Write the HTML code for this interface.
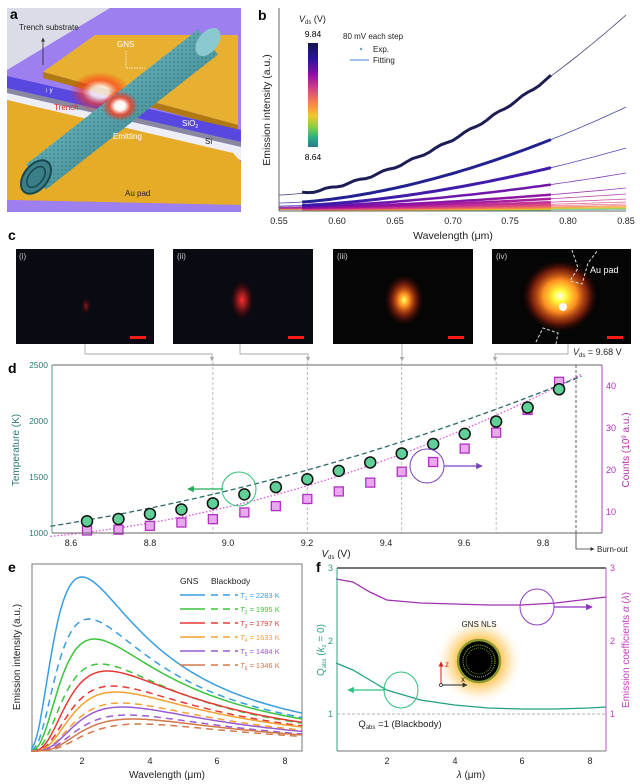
<!DOCTYPE html>
<html><head><meta charset="utf-8">
<style>
html,body{margin:0;padding:0;background:#fff;}
svg{display:block;font-family:"Liberation Sans",sans-serif;}
</style></head>
<body>
<svg id="s" width="640" height="784" viewBox="0 0 640 784" xmlns="http://www.w3.org/2000/svg">
<defs>
<linearGradient id="tube" x1="0" y1="0" x2="1" y2="1">
<stop offset="0" stop-color="#b8e4ea"/><stop offset="0.45" stop-color="#5aa6ae"/><stop offset="1" stop-color="#2a6e78"/>
</linearGradient>
<pattern id="mesh" width="4" height="4" patternUnits="userSpaceOnUse"><rect width="4" height="4" fill="none"/><circle cx="2" cy="2" r="0.9" fill="#1d4f58" fill-opacity="0.45"/></pattern>
<radialGradient id="hot"><stop offset="0" stop-color="#fff"/><stop offset="0.3" stop-color="#fff4f0"/><stop offset="0.6" stop-color="#ff3a20" stop-opacity="0.8"/><stop offset="1" stop-color="#ff2000" stop-opacity="0"/></radialGradient>
<linearGradient id="cbar" x1="0" y1="0" x2="0" y2="1">
<stop offset="0" stop-color="#141450"/><stop offset="0.15" stop-color="#2a1496"/><stop offset="0.3" stop-color="#8a10a0"/><stop offset="0.45" stop-color="#d84880"/><stop offset="0.6" stop-color="#f59040"/><stop offset="0.7" stop-color="#f0c828"/><stop offset="0.8" stop-color="#90d040"/><stop offset="0.9" stop-color="#30b080"/><stop offset="1" stop-color="#2a7a90"/>
</linearGradient>
<radialGradient id="g1"><stop offset="0" stop-color="#b02020" stop-opacity="0.8"/><stop offset="1" stop-color="#300" stop-opacity="0"/></radialGradient>
<radialGradient id="g2"><stop offset="0" stop-color="#ff3030"/><stop offset="0.4" stop-color="#c02020" stop-opacity="0.7"/><stop offset="1" stop-color="#400" stop-opacity="0"/></radialGradient>
<radialGradient id="g3"><stop offset="0" stop-color="#ffff60"/><stop offset="0.25" stop-color="#ff9020"/><stop offset="0.6" stop-color="#c03010" stop-opacity="0.6"/><stop offset="1" stop-color="#300" stop-opacity="0"/></radialGradient>
<radialGradient id="g4"><stop offset="0" stop-color="#ffffff"/><stop offset="0.15" stop-color="#ffff40"/><stop offset="0.45" stop-color="#ff9020"/><stop offset="0.75" stop-color="#c03010" stop-opacity="0.6"/><stop offset="1" stop-color="#300" stop-opacity="0"/></radialGradient>
<radialGradient id="glowf"><stop offset="0.45" stop-color="#ffc040"/><stop offset="0.7" stop-color="#ffd890" stop-opacity="0.6"/><stop offset="1" stop-color="#fff" stop-opacity="0"/></radialGradient>
<marker id="arG" viewBox="0 0 10 10" refX="9" refY="5" markerWidth="5" markerHeight="5" orient="auto"><path d="M0,0L10,5L0,10z" fill="#22aa55"/></marker>
<marker id="arP" viewBox="0 0 10 10" refX="9" refY="5" markerWidth="5" markerHeight="5" orient="auto"><path d="M0,0L10,5L0,10z" fill="#7a40c0"/></marker>
<marker id="arM" viewBox="0 0 10 10" refX="9" refY="5" markerWidth="5" markerHeight="5" orient="auto"><path d="M0,0L10,5L0,10z" fill="#9030c0"/></marker>
<marker id="arT" viewBox="0 0 10 10" refX="9" refY="5" markerWidth="5" markerHeight="5" orient="auto"><path d="M0,0L10,5L0,10z" fill="#30c080"/></marker>
<marker id="arK" viewBox="0 0 10 10" refX="9" refY="5" markerWidth="5" markerHeight="5" orient="auto"><path d="M0,0L10,5L0,10z" fill="#333"/></marker>
<marker id="arGr" viewBox="0 0 10 10" refX="9" refY="5" markerWidth="5" markerHeight="5" orient="auto"><path d="M0,0L10,5L0,10z" fill="#aaa"/></marker>
<marker id="arR" viewBox="0 0 10 10" refX="9" refY="5" markerWidth="5" markerHeight="5" orient="auto"><path d="M0,0L10,5L0,10z" fill="#e02020"/></marker>
</defs>

<!-- Panel a -->
<rect x="7" y="8" width="234" height="204" fill="#9d7ff0"/>
<polygon points="7,8 110,8 7,70" fill="#dcdce8"/>
<polygon points="43,72 95,35 238,35 238,125" fill="#e8b030"/>
<polygon points="43,72 238,125 238,131 43,78" fill="#b07810"/>
<polygon points="7,76 241,130 241,142 7,88" fill="#5848e0"/>
<polygon points="7,88 241,142 241,147 7,93" fill="#8888a0"/>
<polygon points="7,93 241,147 241,160 7,100" fill="#eeeef8"/>
<polygon points="7,100 233,153 241,162 241,205 7,200" fill="#e6ac28"/>
<polygon points="7,200 241,205 241,212 7,212" fill="#9d7ff0"/>
<ellipse cx="100" cy="92" rx="30" ry="20" fill="url(#hot)" opacity="0.8"/>
<line x1="36" y1="177" x2="208" y2="42" stroke="url(#tube)" stroke-width="32"/>
<line x1="36" y1="177" x2="208" y2="42" stroke="url(#mesh)" stroke-width="32"/>
<ellipse cx="208" cy="42" rx="10" ry="16" transform="rotate(38 208 42)" fill="#8cc8d0"/>
<ellipse cx="36" cy="177" rx="12" ry="19" transform="rotate(38 36 177)" fill="#3a7e88" stroke="#184850" stroke-width="2"/>
<ellipse cx="36" cy="177" rx="7" ry="12" transform="rotate(38 36 177)" fill="none" stroke="#184850" stroke-width="1.5"/>
<ellipse cx="120" cy="106" rx="18" ry="15" fill="url(#hot)"/>
<text x="10" y="19" font-size="14" font-weight="bold">a</text>
<text x="19" y="30" font-size="8" fill="#222">Trench substrate</text>
<line x1="43" y1="65" x2="43" y2="38" stroke="#222" stroke-width="0.8" marker-end="url(#arK)"/>
<text x="117" y="47" font-size="8" fill="#fff">GNS</text>
<polyline points="126,51 126,68 145,68" fill="none" stroke="#fff" stroke-width="0.7" stroke-dasharray="1.5,1"/>
<text x="54" y="110" font-size="8" fill="#e02020">Trench</text>
<text x="113" y="139" font-size="8" fill="#fff">Emitting</text>
<text x="182" y="126" font-size="8" fill="#fff">SiO<tspan font-size="5" dy="2">2</tspan></text>
<text x="205" y="144" font-size="8" fill="#222">Si</text>
<text x="125" y="196" font-size="8" fill="#222">Au pad</text>
<text x="45" y="92" font-size="6" fill="#fff">↕ y</text>

<!-- Panel b -->
<text x="258" y="20" font-size="14" font-weight="bold">b</text>
<g id="pb"></g>
<line x1="279" y1="8" x2="279" y2="211" stroke="#666" stroke-width="1"/>
<line x1="279" y1="211" x2="626" y2="211" stroke="#666" stroke-width="1"/>
<g font-size="9" fill="#222" text-anchor="middle">
<text x="279" y="224">0.55</text><text x="337" y="224">0.60</text><text x="395" y="224">0.65</text><text x="453" y="224">0.70</text><text x="510" y="224">0.75</text><text x="568" y="224">0.80</text><text x="626" y="224">0.85</text>
<text x="453" y="239" font-size="10.5">Wavelength (μm)</text>
</g>
<text transform="translate(270,110) rotate(-90)" font-size="10.5" text-anchor="middle" fill="#222">Emission intensity (a.u.)</text>
<rect x="308" y="43" width="10" height="104" fill="url(#cbar)"/>
<text x="299" y="22" font-size="9" fill="#222"><tspan font-style="italic">V</tspan><tspan font-size="6" dy="2">ds</tspan><tspan dy="-2"> (V)</tspan></text>
<text x="313" y="37" font-size="8.5" text-anchor="middle">9.84</text>
<text x="313" y="160" font-size="8.5" text-anchor="middle">8.64</text>
<text x="343" y="39" font-size="8" fill="#222">80 mV each step</text>
<circle cx="361" cy="49" r="1.2" fill="#6aa0d0"/>
<text x="373" y="52" font-size="8" fill="#222">Exp.</text>
<line x1="350" y1="60" x2="369" y2="60" stroke="#4a7ad0" stroke-width="1"/>
<text x="373" y="63" font-size="8" fill="#222">Fitting</text>

<!-- Panel c -->
<text x="8" y="240" font-size="14" font-weight="bold">c</text>
<rect x="16" y="249" width="138" height="95" fill="#0a0a12"/>
<rect x="173" y="249" width="140" height="95" fill="#0a0a12"/>
<rect x="333" y="249" width="140" height="95" fill="#050505"/>
<rect x="492" y="249" width="139" height="95" fill="#050505"/>
<ellipse cx="86" cy="306" rx="5" ry="9" fill="url(#g1)"/>
<ellipse cx="242" cy="300" rx="12" ry="20" fill="url(#g2)"/>
<ellipse cx="404" cy="300" rx="20" ry="26" fill="url(#g3)"/>
<ellipse cx="560" cy="296" rx="38" ry="36" fill="url(#g4)"/>
<circle cx="563" cy="307" r="4" fill="#fff"/>
<polyline points="572,250 578,268 570,281 582,284 588,263 598,250" fill="none" stroke="#ddd" stroke-width="1" stroke-dasharray="3,2"/>
<polyline points="536,342 543,328 558,333 556,344" fill="none" stroke="#ddd" stroke-width="1" stroke-dasharray="3,2"/>
<text x="590" y="273" font-size="9" fill="#fff">Au pad</text>
<g font-size="8" fill="#ccc"><text x="19" y="259">(i)</text><text x="177" y="259">(ii)</text><text x="337" y="259">(iii)</text><text x="496" y="259">(iv)</text></g>
<g fill="#ff1a1a"><rect x="130" y="336" width="16" height="3"/><rect x="288" y="336" width="16" height="3"/><rect x="448" y="336" width="16" height="3"/><rect x="607" y="336" width="16" height="3"/></g>
<text x="573" y="355" font-size="9" fill="#222"><tspan font-style="italic">V</tspan><tspan font-size="6" dy="2">ds</tspan><tspan dy="-2"> = 9.68 V</tspan></text>
<g stroke="#aaa" stroke-width="0.9" fill="none">
<polyline points="85,344 85,354 212,354 212,361" marker-end="url(#arGr)"/>
<polyline points="240,344 240,354 308,354 308,361" marker-end="url(#arGr)"/>
<polyline points="402,344 402,361" marker-end="url(#arGr)"/>
<polyline points="568,344 568,354 495,354 495,361" marker-end="url(#arGr)"/>
</g>

<!-- Panel d -->
<text x="8" y="373" font-size="14" font-weight="bold">d</text>
<g id="pd"></g>
<line x1="52" y1="365" x2="602" y2="365" stroke="#666" stroke-width="1"/>
<line x1="52" y1="365" x2="52" y2="533" stroke="#5a9a96" stroke-width="1"/>
<line x1="602" y1="365" x2="602" y2="533" stroke="#b040c0" stroke-width="1"/>
<line x1="52" y1="533" x2="602" y2="533" stroke="#666" stroke-width="1"/>
<g font-size="8.5" fill="#2a7a76" text-anchor="end">
<text x="48" y="368">2500</text><text x="48" y="424">2000</text><text x="48" y="480">1500</text><text x="48" y="536">1000</text></g>
<g font-size="9" fill="#b030b0"><text x="606" y="389">40</text><text x="606" y="431">30</text><text x="606" y="473">20</text><text x="606" y="515">10</text></g>
<g font-size="9" fill="#222" text-anchor="middle">
<text x="71" y="546">8.6</text><text x="150" y="546">8.8</text><text x="228" y="546">9.0</text><text x="307" y="546">9.2</text><text x="386" y="546">9.4</text><text x="464" y="546">9.6</text><text x="543" y="546">9.8</text></g>
<text x="336" y="557" font-size="10" text-anchor="middle" fill="#222"><tspan font-style="italic">V</tspan><tspan font-size="6" dy="2">ds</tspan><tspan dy="-2"> (V)</tspan></text>
<text transform="translate(19,450) rotate(-90)" font-size="10" text-anchor="middle" fill="#2a7a76">Temperature (K)</text>
<text transform="translate(629,450) rotate(-90)" font-size="10" text-anchor="middle" fill="#b030b0">Counts (10<tspan font-size="6" dy="-3">9</tspan><tspan dy="3"> a.u.)</tspan></text>
<polyline points="576,533 576,549 594,549" fill="none" stroke="#333" stroke-width="0.8" marker-end="url(#arK)"/>
<text x="597" y="552" font-size="8" fill="#222">Burn-out</text>
<circle cx="239" cy="489" r="17" fill="none" stroke="#30c070" stroke-width="1"/>
<line x1="223" y1="489" x2="188" y2="489" stroke="#22aa55" stroke-width="1.3" marker-end="url(#arG)"/>
<circle cx="427" cy="466" r="17" fill="none" stroke="#7a40c0" stroke-width="1"/>
<line x1="444" y1="466" x2="482" y2="466" stroke="#7a40c0" stroke-width="1.3" marker-end="url(#arP)"/>

<!-- Panel e -->
<text x="8" y="572" font-size="14" font-weight="bold">e</text>
<rect x="32" y="564" width="270" height="187" fill="none" stroke="#777" stroke-width="1"/>
<g id="pe"></g>
<g font-size="9" fill="#222" text-anchor="middle"><text x="82" y="764">2</text><text x="150" y="764">4</text><text x="217" y="764">6</text><text x="285" y="764">8</text>
<text x="167" y="778" font-size="10">Wavelength (μm)</text></g>
<text transform="translate(20,657) rotate(-90)" font-size="10" text-anchor="middle" fill="#222">Emission intensity (a.u.)</text>
<text x="180" y="584" font-size="8.5" fill="#222">GNS</text><text x="211" y="584" font-size="8.5" fill="#222">Blackbody</text>
<g id="leg" font-size="7.5"></g>

<!-- Panel f -->
<text x="316" y="572" font-size="14" font-weight="bold">f</text>
<circle cx="479" cy="661" r="44" fill="url(#glowf)"/>
<circle cx="479" cy="661" r="21" fill="#000" stroke="#8a9a30" stroke-width="2.5"/>
<circle cx="479" cy="661" r="16" fill="none" stroke="#90c040" stroke-width="1" stroke-dasharray="1,1"/>
<circle cx="479" cy="661" r="13" fill="none" stroke="#70a030" stroke-width="0.8" stroke-dasharray="1,1"/>
<text x="479" y="627" font-size="8" text-anchor="middle" fill="#222">GNS NLS</text>
<line x1="441" y1="685" x2="441" y2="662" stroke="#e02020" stroke-width="1" marker-end="url(#arR)"/>
<text x="445" y="667" font-size="8" fill="#e02020">z</text>
<line x1="441" y1="685" x2="467" y2="685" stroke="#222" stroke-width="1" marker-end="url(#arK)"/>
<text x="461" y="682" font-size="8" fill="#222">x</text>
<circle cx="441" cy="685" r="1.5" fill="#fff" stroke="#222" stroke-width="0.8"/>
<g id="pf"></g>
<line x1="337" y1="568" x2="606" y2="568" stroke="#222" stroke-width="1.2"/>
<line x1="337" y1="568" x2="337" y2="751" stroke="#30a080" stroke-width="1"/>
<line x1="606" y1="568" x2="606" y2="751" stroke="#c050c0" stroke-width="1"/>
<line x1="337" y1="751" x2="606" y2="751" stroke="#777" stroke-width="1"/>
<line x1="337" y1="714" x2="606" y2="714" stroke="#999" stroke-width="0.8" stroke-dasharray="3,2"/>
<g font-size="9" fill="#30a080" text-anchor="end"><text x="333" y="571">3</text><text x="333" y="644">2</text><text x="333" y="717">1</text></g>
<g font-size="9" fill="#c040c0"><text x="610" y="571">3</text><text x="610" y="644">2</text><text x="610" y="717">1</text></g>
<g font-size="9" fill="#222" text-anchor="middle"><text x="387" y="764">2</text><text x="455" y="764">4</text><text x="522" y="764">6</text><text x="590" y="764">8</text>
<text x="471" y="778" font-size="10"><tspan font-style="italic">λ</tspan> (μm)</text></g>
<text x="400" y="727" font-size="9.5" text-anchor="middle" fill="#222">Q<tspan font-size="6" dy="2">abs</tspan><tspan dy="-2"> =1 (Blackbody)</tspan></text>
<text transform="translate(324,650) rotate(-90)" font-size="10" text-anchor="middle" fill="#30a080">Q<tspan font-size="6" dy="2">abs</tspan><tspan dy="-2"> (</tspan><tspan font-style="italic">k</tspan><tspan font-size="6" dy="2">z</tspan><tspan dy="-2"> = 0)</tspan></text>
<text transform="translate(629,650) rotate(-90)" font-size="10" text-anchor="middle" fill="#c040c0">Emission coefficients <tspan font-style="italic">α</tspan> (<tspan font-style="italic">λ</tspan>)</text>
<ellipse cx="537" cy="607" rx="17" ry="18" fill="none" stroke="#9040c0" stroke-width="1"/>
<line x1="554" y1="607" x2="592" y2="607" stroke="#9030c0" stroke-width="1.3" marker-end="url(#arM)"/>
<ellipse cx="401" cy="690" rx="17" ry="18" fill="none" stroke="#30c080" stroke-width="1"/>
<line x1="385" y1="690" x2="348" y2="690" stroke="#30c080" stroke-width="1.3" marker-end="url(#arT)"/>
</svg>
<script>
var NS="http://www.w3.org/2000/svg";
function el(p,t,a){var e=document.createElementNS(NS,t);for(var k in a)e.setAttribute(k,a[k]);p.appendChild(e);return e;}
(function(){
var g=document.getElementById('pb');
var cols=["#141450","#1a1a8c","#3a14a8","#6a10a8","#8a10a0","#a8189a","#c03090","#d84880","#e86070","#f07858","#f59040","#f5b030","#e8d020","#b0d040","#60c060","#30a090"];
var sh=[[15,195],[7,103],[4,62],[3,37],[2.5,22],[2,16],[1.6,11],[1.3,8],[1.1,6],[0.9,4.5],[0.8,3.5],[0.7,2.8],[0.6,2.2],[0.5,1.7],[0.4,1.2],[0.3,0.8]];
for(var k=15;k>=0;k--){
 var s=sh[k][0],h=sh[k][1],pf="",pe="";
 for(var i=0;i<=60;i++){var l=0.55+0.3*i/60,t=(l-0.55)/0.3;var y=210-(s+(h-s)*Math.pow(t,1.7));var x=279+(l-0.55)*1157;pf+=x.toFixed(1)+","+y.toFixed(1)+" ";if(l>=0.569&&l<=0.786)pe+=x.toFixed(1)+","+(y+(k==0?Math.sin(i*1.3)*1:0)).toFixed(1)+" ";}
 el(g,'polyline',{points:pe,fill:'none',stroke:cols[k],'stroke-width':k<3?3:2.5,'stroke-opacity':0.95});
 el(g,'polyline',{points:pf,fill:'none',stroke:cols[k],'stroke-width':0.8,'stroke-opacity':0.8});
}})();
(function(){
var g=document.getElementById('pd');
function X(v){return 87+(v-8.64)*393.4;}function YT(t){return 533-(t-1000)*0.112;}function YC(c){return 512-(c-10)*4.2;}
[8.96,9.2,9.44,9.68].forEach(function(v){el(g,'line',{x1:X(v),y1:362,x2:X(v),y2:533,stroke:'#aaa','stroke-width':0.8,'stroke-dasharray':'3,2'});});
el(g,'line',{x1:576,y1:365,x2:576,y2:533,stroke:'#333','stroke-width':0.8,'stroke-dasharray':'3,2'});
var V=[],T=[1105,1125,1170,1210,1265,1345,1410,1480,1555,1630,1710,1795,1885,1995,2120,2283],C=[5.6,5.8,6.7,7.5,8.3,9.9,11.4,13.1,14.9,17,19.6,21.9,25.1,28.9,34.3,41];
for(var i=0;i<16;i++)V.push(8.64+0.08*i);
var pt="",pc="";
for(var v=8.547;v<=9.9;v+=0.01){var t=1060+ (v-8.547)*560+ (v-8.547)*(v-8.547)*320;var c=4.2+(v-8.547)*9+(v-8.547)*(v-8.547)*14.5;
 var yt=YT(t),yc=YC(c);if(yt>=365)pt+=X(v).toFixed(1)+","+yt.toFixed(1)+" ";if(yc>=365)pc+=X(v).toFixed(1)+","+yc.toFixed(1)+" ";}
el(g,'polyline',{points:pc,fill:'none',stroke:'#e050e0','stroke-width':1.3,'stroke-dasharray':'1.5,2'});
el(g,'polyline',{points:pt,fill:'none',stroke:'#2a6a66','stroke-width':1.3,'stroke-dasharray':'5,3'});
for(var i=0;i<16;i++){el(g,'rect',{x:X(V[i])-4.5,y:YC(C[i])-4.5,width:9,height:9,fill:'#eaa8f0',stroke:'#b030c0','stroke-width':1.3});
 el(g,'circle',{cx:X(V[i]),cy:YT(T[i]),r:5.5,fill:'#60d098',stroke:'#111','stroke-width':1.5});}
})();
(function(){
var g=document.getElementById('pe'),lg=document.getElementById('leg');
function X(l){return 31.3+(l-0.5)*33.8;}
var cols=["#3a9de0","#3cc33c","#e53935","#f5a030","#9a5bd0","#d2784a"];
var names=["2283","1995","1797","1633","1484","1346"];
var P=[[2.0,577,2.2,619],[2.37,639,2.55,664],[2.75,671,2.9,686],[3.0,692,3.15,703],[3.2,707,3.35,715],[3.5,719,3.7,724]];
function f(l,lp){var c=2.8214*lp;return Math.pow(l,-3)/(Math.exp(c/l)-1);}
for(var k=0;k<6;k++){
 for(var j=0;j<2;j++){var lp=P[k][j*2],yp=P[k][j*2+1],H=751-yp,fp=f(lp,lp),s="";
  for(var l=0.5;l<=8.501;l+=0.05){var y=751-H*f(l,lp)/fp;s+=X(l).toFixed(1)+","+y.toFixed(1)+" ";}
  var a={points:s,fill:'none',stroke:cols[k],'stroke-width':1.5};if(j==1)a['stroke-dasharray']='7,5';el(g,'polyline',a);}
 var y=595+14*k;
 el(lg,'line',{x1:180,y1:y,x2:205,y2:y,stroke:cols[k],'stroke-width':1.6});
 el(lg,'line',{x1:211,y1:y,x2:238,y2:y,stroke:cols[k],'stroke-width':1.6,'stroke-dasharray':'7,5'});
 var t=el(lg,'text',{x:240,y:y+3,fill:cols[k]});t.innerHTML='<tspan font-style="italic">T</tspan><tspan font-size="5" dy="2">'+(k+1)+'</tspan><tspan dy="-2"> = '+names[k]+' K</tspan>';
}})();
(function(){
var g=document.getElementById('pf');
function X(l){return 336+(l-0.5)*33.8;}
var m=[[0.5,579],[1,582],[1.5,592],[2,600],[3,603],[4,604],[5,605],[6,605],[7,603],[8,599],[8.5,597]];
var t=[[0.5,663],[1,670],[1.5,680],[2,690],[3,700],[4,705],[5,708],[6,709],[7,709],[8,708],[8.5,707]];
function pl(a){return a.map(function(p){return X(p[0]).toFixed(1)+","+p[1];}).join(" ");}
el(g,'polyline',{points:pl(m),fill:'none',stroke:'#a030b0','stroke-width':1.3});
el(g,'polyline',{points:pl(t),fill:'none',stroke:'#20a080','stroke-width':1.3});
})();
</script>
</body></html>
